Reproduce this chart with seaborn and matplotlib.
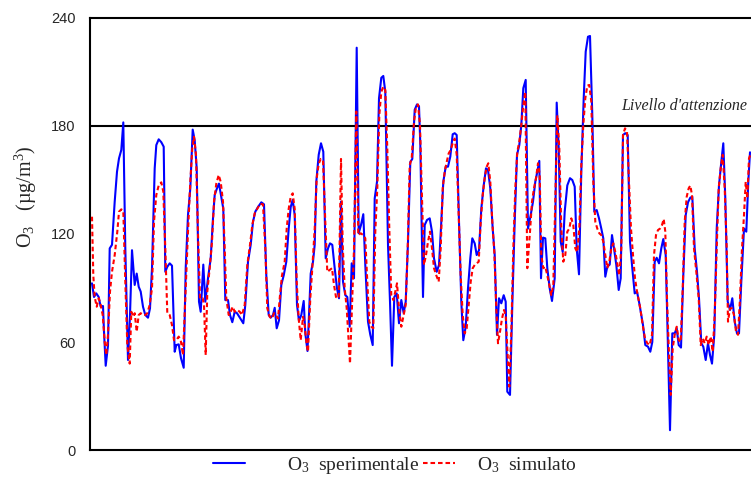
import matplotlib
matplotlib.use("Agg")
import matplotlib.pyplot as plt
import seaborn as sns
import pandas as pd
from matplotlib.lines import Line2D

# time index (arbitrary units) and O3 concentration (ug/m3)
sperimentale = [
(2,92.6),(4,85),(6.3,87),(8.7,85),(10.7,79.6),(13,80),(14,65.7),(15.7,46.8),(18,58),(19.7,112),(22,114),(24.7,138),(27,154.6),(29,162),(31.3,166.7),(33.3,182),(35.3,112),(38,50),(40,75),(42,111),(44.7,91.7),(46.7,98),(48.7,90.7),(50.7,88),(53,79.6),(55.3,75),(58,73.5),(60,78.7),(62,101),(64.7,156.5),(66.3,169.4),(68.7,172.6),(71.3,171),(73.7,168.5),(75.3,99),(77.3,101.8),(79.7,103.7),(82,102.4),(84.7,54.6),(86.3,58.3),(88.7,58.7),(91,51),(93.7,45.7),(95.7,101),(98,130.6),(100.3,145.4),(102.7,178),(104.7,172),(106.7,156.5),(109,82.4),(110.7,76.8),(113.3,103),(115.3,82.4),(118,95.4),(120.7,106.5),(123,128.7),(124.7,141.7),(127,145.4),(129,148),(131.3,140.7),(133.3,134),(135.3,83.3),(138,83.3),(140,75),(142.3,71),(144.7,76.8),(147,76),(149.3,74),(153.3,70.4),(155.3,80.6),(158,104.6),(160.7,114),(163,126.8),(165.3,132.4),(168,135),(171.3,137.6),(174,136.5),(176.3,97),(178.7,75),(180.7,73.5),(183,75),(184.7,79),(186.7,67.6),(189,72),(191.3,91.7),(193.7,97),(196.3,104.6),(198.7,123),(200.7,135),(202.7,139),(204.7,130.5),(207,80.6),(209,71.7),(211.3,75),(213.7,82.8),(215.3,64.8),(217.5,55),(220.7,98),(223,104.6),(224.7,114),(226.3,149),(228.7,164),(231,170.4),(233.3,165.7),(235.7,106.5),(238,112),(240,114.8),(242.3,114),(244.7,101),(247,89.8),(249,84.3),(251,138),(253,93.5),(255.3,86),(257.3,85),(259.7,68.5),(261.7,103.7),(264,95.4),(266.7,223.5),(268.7,120.4),(271,125),(273.3,131),(275.3,102.8),(278,71.3),(280.3,64),(282.7,58.3),(284.7,139.8),(287,149),(289,195.4),(291.3,206.8),(293.3,207.8),(295.3,199),(298,114),(300,82.4),(302,46.8),(304.3,85),(306.7,87),(309,70.4),(311.3,83.3),(313.7,76),(315.7,82.4),(318,115.7),(320.3,160),(322.3,161.7),(324.7,189),(327,192),(329,191),(330.3,170),(331.5,130),(333,85),(334.7,125),(337,127.8),(339.7,128.7),(342,121.3),(344,106.5),(346.7,99),(349,102.8),(351.3,126.8),(353.3,149),(355.7,157.4),(358,157.4),(360.3,163),(362.7,175.4),(364.7,176),(366.7,175),(369,126.8),(371.3,82.4),(373.3,61),(375.7,68.5),(378,89.8),(380.3,106.5),(382.3,117.6),(384.7,114.8),(386.7,108.3),(389,111),(391.3,134),(393.7,147),(396,156.5),(398,155.6),(400.3,145.4),(402.7,123),(404.7,108.3),(407,64),(409,84.3),(411.3,81.5),(413.7,86),(415.7,82.4),(417.3,32.4),(420,30.6),(422.3,80.6),(424.7,126.8),(427,164),(429.3,169.4),(431.3,180.5),(433.3,201),(435.7,205.6),(438,123),(440.7,130.5),(443,138),(445.3,149),(447.3,154.6),(449.3,160.6),(451,95.4),(453,118),(455.3,117.6),(457.3,101),(459.7,89.8),(462,82.8),(464.7,95.4),(466.7,193),(468.7,167.6),(470.7,115.7),(472.7,110),(474.7,132.4),(477.3,147),(480,151),(482.3,150),(484.7,146.3),(486.7,112),(489,97.6),(491.3,154.6),(493.7,195.4),(495.7,221.3),(498,229.6),(500,230),(502.3,186),(504.3,132.4),(506.7,133.3),(509,128.7),(511.3,123),(513.3,117.6),(515.3,96.3),(517.3,101.8),(519.7,103),(522,119.4),(524,112),(526.3,102.8),(528.7,88.9),(530.7,95.4),(533,175),(535.3,176),(537.7,175),(540,115.7),(542.3,101),(544.7,87),(547,88),(549.3,81.5),(553,69.4),(555.3,58.3),(558,57.4),(560.3,54.6),(562.3,60),(564.7,104.6),(566.7,106.8),(569,103.7),(571.3,112),(573.3,117.2),(575.7,108.3),(578,56.5),(580,11),(582.3,64.8),(584.7,64.8),(586.7,67.6),(588.7,58.3),(591,56.9),(593.3,97),(595.7,130.5),(598,137.6),(600.3,140.2),(602.3,140.7),(604.7,112),(607,99),(609,84.3),(611.3,59.3),(613.3,57.4),(615.7,50),(618,59.3),(620,52.8),(622,48),(624.3,64),(626.7,123),(629,147),(631.3,160),(633.3,170.4),(635.3,139.8),(637.7,82.4),(640,77.8),(642.3,84.3),(644.7,71.3),(647,64.8),(649,64.8),(651.3,93.5),(654,123),(656.3,121.3),(658.3,149),(660,165.4)]

simulato = [
(2,129.6),(3.3,97),(4.7,85),(6.7,79.6),(8.7,84.3),(10.7,80.6),(12.7,75),(14.7,60),(16.3,52.8),(18,64),(20,88),(22,99),(24.7,108.3),(27.3,121.3),(29,132.4),(31.3,133.7),(33.3,132.8),(35.3,93.5),(37.3,58.3),(39.7,48),(41.3,76.8),(43.3,74),(44.7,76),(46.7,65.7),(48.7,75),(50.7,76),(53,75),(55.3,75),(57.3,76),(59.7,80.6),(62,89.8),(64,126.8),(66.3,141.7),(68.7,147),(71.3,148.7),(73.3,143.5),(75.3,112),(77.3,76),(79.7,75),(82,69.4),(84,61),(86.3,61),(88.7,63),(90.7,61),(93,52.8),(95.3,84.3),(98,121.3),(100.3,149),(102.3,167.6),(104,174),(106,164),(108,120),(110,84),(112.7,84.3),(114,80.6),(115.7,52.8),(117.3,88),(119.7,101),(122,115.7),(124,138),(126.3,148),(128.7,152.8),(130.7,149),(133,138),(134.7,112),(136.3,84.3),(138.7,75),(140.7,76.8),(142.7,79.6),(144.7,76.8),(147.3,77.8),(149.7,76.8),(152,75),(154.7,80.6),(157.3,102.8),(160,114),(162.3,125),(164.7,131.5),(167.3,134),(170,136.7),(173,136.5),(175.3,112),(177.3,78.7),(179.7,74),(182,73),(184,76),(186,75),(188,73),(190,86),(192,97),(194.7,104.6),(196.7,123),(198.7,134),(200.7,140.7),(202.7,142.6),(204.7,134),(206.7,93.5),(208.7,73),(210.7,61),(213,74),(214.7,69.4),(216.7,58.3),(218,54.6),(220.3,84.3),(222.3,101),(224.7,123),(226.7,151),(228.7,159),(230.7,161.7),(233,161),(235.3,126.8),(237.3,99),(239.7,100),(242,101),(244,91.7),(246,85),(248.7,84.3),(251,161.7),(252.7,114),(254.7,89.8),(256.7,78.7),(258.3,64),(260,48),(262,80.6),(264,112),(266.3,188),(268.3,119.4),(270.7,120.4),(273.3,119.4),(275.3,117.6),(277.3,93.5),(279.3,71.3),(281.3,68.5),(283.3,67.6),(285.3,121.3),(287.3,145.4),(289.3,186),(291.3,199),(293.3,201.8),(295.3,200),(297.3,167.6),(299.3,123),(301.3,86),(303.3,83.3),(305.3,88),(307,92.6),(309,78.7),(311.3,68.5),(313.7,75),(315.7,80.6),(317.7,112),(319.7,158.3),(321.7,162),(324,182.4),(326,190.7),(328,192),(330,180.5),(332,139.8),(334,102.8),(336,108.3),(338,115.7),(340,121.3),(342,112),(344,101),(346.3,97),(348.7,93.5),(350.7,112),(352.7,145.4),(354.7,154.6),(356.7,160),(358.7,164.8),(360.7,166.7),(362.7,170.4),(364.7,173),(366.7,164),(368.7,130.5),(370.7,97),(372.7,75),(374.7,64.8),(376.7,67.6),(378.7,80.6),(380.7,93.5),(382.7,101),(384.7,102.8),(386.7,103.7),(388.7,104.6),(390.7,126.8),(392.7,141.7),(394.7,151),(396.7,157.4),(398.3,159.3),(400.3,149),(402.3,126.8),(404.3,110),(406.3,78.7),(408,59.3),(410,65.7),(412,73),(414,77.8),(415.7,75),(417.3,56.5),(419.3,35.2),(421.3,65.7),(423.3,112),(425.3,145.4),(427.3,165.7),(429.3,171.3),(431.3,180.5),(433.3,191.7),(435.3,199),(437.3,101),(440,121.3),(442,138),(444,145.4),(446,151),(448,159.3),(449.7,152.8),(451.3,108.3),(453.3,101),(455.3,101.8),(457.3,97),(459.3,91.7),(461.3,86),(463.3,91.7),(465.3,139.8),(467.3,186),(469.3,167.6),(471.3,123),(473.3,104.6),(475.3,108.3),(477.3,121.3),(479.3,123),(481.3,128.7),(483.3,125),(485.3,112),(487.3,110),(489.3,123),(491.3,158.3),(493.3,180.5),(495.3,195.4),(497.3,202.4),(499.3,202.8),(501.3,193.5),(503.3,149),(505.3,126.8),(507.3,123),(509.3,120.4),(511.3,119.4),(513.3,115.7),(515.3,108.3),(517.3,101),(519.3,104.6),(521.3,112),(523.3,114.8),(525.3,110),(527.3,103.7),(529.3,97),(531.3,112),(533,175),(535,178.7),(537,176.9),(539,149),(541,123),(543,108.3),(545,95.4),(547,88),(549,82.4),(550.3,78.7),(552.7,69.4),(555,62),(557.3,59.3),(559.7,58.3),(562,64),(564,108.3),(566,119.4),(568,122.2),(570,123),(572,125),(573.7,128.3),(575.3,121.3),(577,84.3),(579,52.8),(580.7,30.6),(582.7,56.5),(584.7,64),(586.7,68.5),(588.7,61),(590.7,60),(592.7,89.8),(594.7,126.8),(596.7,140.7),(598.7,145.4),(600.3,146.9),(602,141.7),(604,112),(606.3,99),(608.7,84.3),(610.7,58.3),(612.7,62),(614.7,59.3),(616.7,63),(618.7,58.3),(620.7,63),(622.7,54.6),(624.7,75),(626.7,112),(628.7,145.4),(630.7,156.5),(632.7,164),(634.7,145.4),(636.7,112),(638,71.3),(640,78.7),(642,78.7),(644,75),(646,65.7),(648,64),(650,84.3),(652,112),(654,130.5),(655.7,149),(657.3,139.8),(659,162),(660.3,164)]

y_ticks = [0, 60, 120, 180, 240]
soglia = 180
soglia_label = "Livello d'attenzione"
label_sper = "O$_3$  sperimentale"
label_sim = "O$_3$  simulato"
y_label = "O$_3$   (\u00b5g/m$^3$)"

sns.set_style("white")
plt.rcParams['font.family'] = ['Liberation Serif', 'DejaVu Serif']
plt.rcParams['mathtext.fontset'] = 'custom'
plt.rcParams['mathtext.rm'] = 'Liberation Serif'
plt.rcParams['mathtext.it'] = 'Liberation Serif:italic'
plt.rcParams['mathtext.default'] = 'regular'

fig = plt.figure(figsize=(7.51, 4.78), dpi=100)
ax = fig.add_axes([90/751, 28/478, 661/751, 432/478])

df_s = pd.DataFrame(sperimentale, columns=["t", "o3"])
df_m = pd.DataFrame(simulato, columns=["t", "o3"])

sns.lineplot(data=df_s, x="t", y="o3", ax=ax, color="#0000ff", linewidth=1.5,
             estimator=None, sort=False, zorder=2)
sns.lineplot(data=df_m, x="t", y="o3", ax=ax, color="#ff0000", linewidth=1.5,
             estimator=None, sort=False, zorder=3)
ax.lines[1].set_linestyle((0, (2.2, 1.4)))

ax.axhline(soglia, color="black", linewidth=1.5, zorder=1)
ax.text(656.7, soglia + 9, soglia_label, ha="right", va="baseline",
        fontstyle="italic", fontsize=11.5, family="Liberation Serif")

ax.set_xlim(0, 661)
ax.set_ylim(0, 240)
ax.set_yticks(y_ticks)
ax.set_xticks([])
ax.tick_params(axis="y", length=0, pad=10.5)
for lab in ax.get_yticklabels():
    lab.set_family("Liberation Sans")
    lab.set_fontsize(10.5)
ax.set_xlabel("")
ax.set_ylabel(y_label, fontsize=14.5)
ax.yaxis.set_label_coords(-0.077, 0.585)

for side in ["left", "top", "bottom"]:
    ax.spines[side].set_color("black")
    ax.spines[side].set_linewidth(1.5)
ax.spines["right"].set_visible(False)

if ax.get_legend() is not None:
    ax.get_legend().remove()
h_sper = Line2D([], [], color="#0000ff", linewidth=1.5)
h_sim = Line2D([], [], color="#ff0000", linewidth=1.5, linestyle=(0, (2.2, 1.4)))
leg_common = dict(frameon=False, loc="center left", fontsize=14, handlelength=1.65,
                  borderpad=0, borderaxespad=0)
fig.legend([h_sper], [label_sper], bbox_to_anchor=(213/751, 1 - 465/478),
           handletextpad=2.15, **leg_common)
fig.legend([h_sim], [label_sim], bbox_to_anchor=(423/751, 1 - 465/478),
           handletextpad=1.15, **leg_common)

fig.savefig("out.png", dpi=100)
